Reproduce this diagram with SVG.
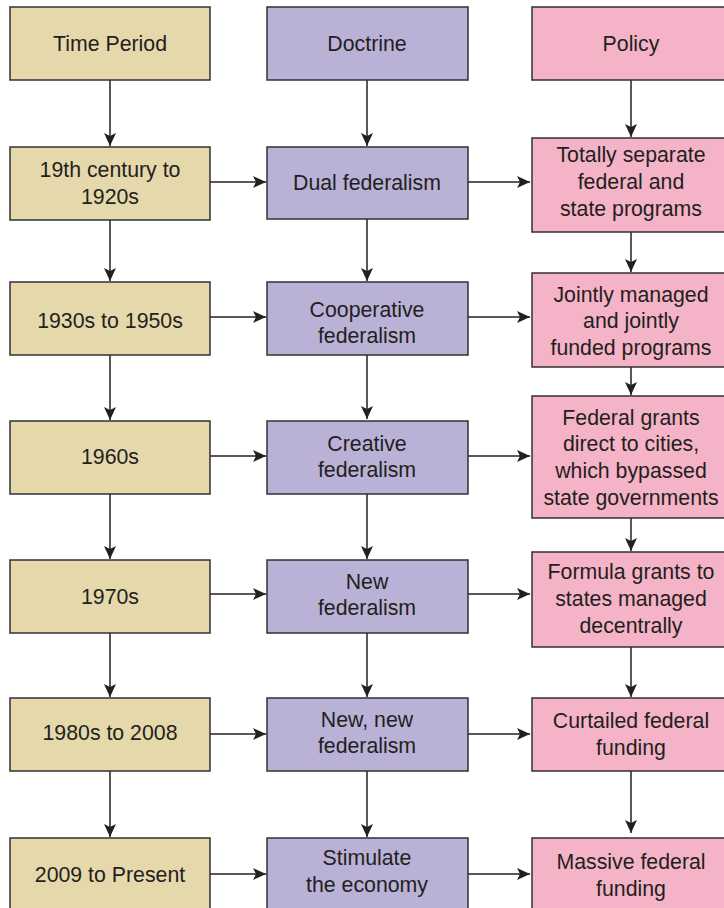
<svg xmlns="http://www.w3.org/2000/svg" width="724" height="908" viewBox="0 0 724 908">
<style>
  .box { stroke: #333132; stroke-width: 1.5; }
  .tp { fill: #e5d8ab; }
  .dc { fill: #b9b1d6; }
  .pl { fill: #f5b3c7; }
  text { font-family: "Liberation Sans", Arial, sans-serif; font-size: 21.3px; fill: #231f20; text-anchor: middle; }
  .con line { stroke: #231f20; stroke-width: 1.5; marker-end: url(#ah); }
</style>
<defs>
  <marker id="ah" markerUnits="userSpaceOnUse" markerWidth="14" markerHeight="13" refX="13" refY="6" orient="auto">
    <path d="M0,0 L13,6 L0,12 L3,6 z" fill="#231f20"/>
  </marker>
</defs>
<rect width="724" height="908" fill="#ffffff"/>

<g id="connectors" class="con">
  <line x1="110" y1="78" x2="110" y2="146"/>
  <line x1="367" y1="78" x2="367" y2="146"/>
  <line x1="631" y1="78" x2="631" y2="137"/>
  <line x1="110" y1="218" x2="110" y2="281"/>
  <line x1="367" y1="217" x2="367" y2="281"/>
  <line x1="631" y1="230" x2="631" y2="272"/>
  <line x1="110" y1="353" x2="110" y2="420"/>
  <line x1="367" y1="353" x2="367" y2="419"/>
  <line x1="631" y1="365" x2="631" y2="395"/>
  <line x1="110" y1="492" x2="110" y2="559"/>
  <line x1="367" y1="492" x2="367" y2="559"/>
  <line x1="631" y1="516" x2="631" y2="551"/>
  <line x1="110" y1="631" x2="110" y2="697"/>
  <line x1="367" y1="631" x2="367" y2="697"/>
  <line x1="631" y1="645" x2="631" y2="697"/>
  <line x1="110" y1="769" x2="110" y2="837"/>
  <line x1="367" y1="769" x2="367" y2="837"/>
  <line x1="631" y1="769" x2="631" y2="833"/>
  <line x1="204" y1="182" x2="266" y2="182"/>
  <line x1="468" y1="182" x2="530" y2="182"/>
  <line x1="204" y1="317" x2="266" y2="317"/>
  <line x1="468" y1="317" x2="530" y2="317"/>
  <line x1="204" y1="456" x2="266" y2="456"/>
  <line x1="468" y1="456" x2="530" y2="456"/>
  <line x1="204" y1="594" x2="266" y2="594"/>
  <line x1="468" y1="594" x2="530" y2="594"/>
  <line x1="204" y1="734" x2="266" y2="734"/>
  <line x1="468" y1="734" x2="530" y2="734"/>
  <line x1="204" y1="874" x2="266" y2="874"/>
  <line x1="468" y1="874" x2="530" y2="874"/>
</g>

<g id="time-period">
  <rect class="box tp" x="10" y="7" width="200" height="73"/>
  <text x="110" y="51">Time Period</text>
</g>
<g id="doctrine">
  <rect class="box dc" x="267" y="7" width="201" height="73"/>
  <text x="367" y="51">Doctrine</text>
</g>
<g id="policy">
  <rect class="box pl" x="532" y="7" width="200" height="73"/>
  <text x="631" y="51">Policy</text>
</g>

<g id="tp-1">
  <rect class="box tp" x="10" y="147" width="200" height="73"/>
  <text x="110" y="177">19th century to</text>
  <text x="110" y="204">1920s</text>
</g>
<g id="dc-1">
  <rect class="box dc" x="267" y="147" width="201" height="72"/>
  <text x="367" y="190">Dual federalism</text>
</g>
<g id="pl-1">
  <rect class="box pl" x="532" y="138" width="200" height="94"/>
  <text x="631" y="162">Totally separate</text>
  <text x="631" y="189">federal and</text>
  <text x="631" y="216">state programs</text>
</g>

<g id="tp-2">
  <rect class="box tp" x="10" y="282" width="200" height="73"/>
  <text x="110" y="328">1930s to 1950s</text>
</g>
<g id="dc-2">
  <rect class="box dc" x="267" y="282" width="201" height="73"/>
  <text x="367" y="317">Cooperative</text>
  <text x="367" y="343">federalism</text>
</g>
<g id="pl-2">
  <rect class="box pl" x="532" y="273" width="200" height="94"/>
  <text x="631" y="302">Jointly managed</text>
  <text x="631" y="328">and jointly</text>
  <text x="631" y="355">funded programs</text>
</g>

<g id="tp-3">
  <rect class="box tp" x="10" y="421" width="200" height="73"/>
  <text x="110" y="464">1960s</text>
</g>
<g id="dc-3">
  <rect class="box dc" x="267" y="421" width="201" height="73"/>
  <text x="367" y="451">Creative</text>
  <text x="367" y="477">federalism</text>
</g>
<g id="pl-3">
  <rect class="box pl" x="532" y="396" width="200" height="122"/>
  <text x="631" y="425">Federal grants</text>
  <text x="631" y="451">direct to cities,</text>
  <text x="631" y="478">which bypassed</text>
  <text x="631" y="505">state governments</text>
</g>

<g id="tp-4">
  <rect class="box tp" x="10" y="560" width="200" height="73"/>
  <text x="110" y="604">1970s</text>
</g>
<g id="dc-4">
  <rect class="box dc" x="267" y="560" width="201" height="73"/>
  <text x="367" y="589">New</text>
  <text x="367" y="615">federalism</text>
</g>
<g id="pl-4">
  <rect class="box pl" x="532" y="552" width="200" height="95"/>
  <text x="631" y="579">Formula grants to</text>
  <text x="631" y="606">states managed</text>
  <text x="631" y="633">decentrally</text>
</g>

<g id="tp-5">
  <rect class="box tp" x="10" y="698" width="200" height="73"/>
  <text x="110" y="740">1980s to 2008</text>
</g>
<g id="dc-5">
  <rect class="box dc" x="267" y="698" width="201" height="73"/>
  <text x="367" y="727">New, new</text>
  <text x="367" y="753">federalism</text>
</g>
<g id="pl-5">
  <rect class="box pl" x="532" y="698" width="200" height="73"/>
  <text x="631" y="728">Curtailed federal</text>
  <text x="631" y="755">funding</text>
</g>

<g id="tp-6">
  <rect class="box tp" x="10" y="838" width="200" height="73"/>
  <text x="110" y="882">2009 to Present</text>
</g>
<g id="dc-6">
  <rect class="box dc" x="267" y="838" width="201" height="73"/>
  <text x="367" y="865">Stimulate</text>
  <text x="367" y="892">the economy</text>
</g>
<g id="pl-6">
  <rect class="box pl" x="532" y="838" width="200" height="73"/>
  <text x="631" y="869">Massive federal</text>
  <text x="631" y="896">funding</text>
</g>
</svg>
